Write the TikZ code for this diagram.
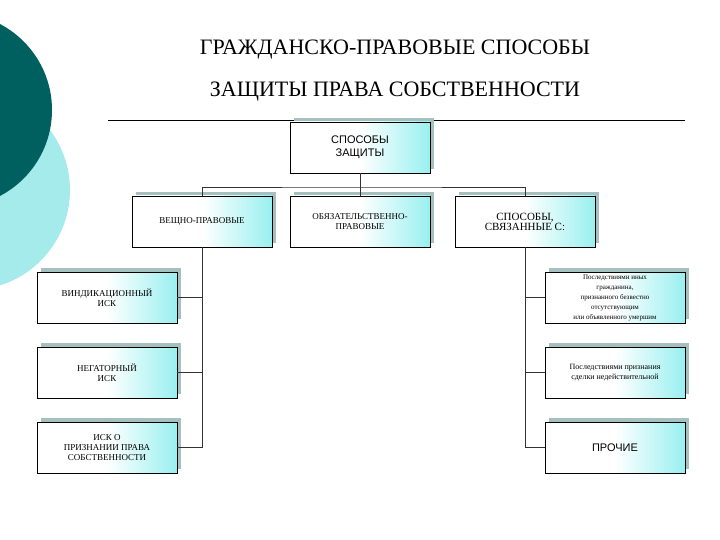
\documentclass[tikz,border=0pt]{standalone}
\usepackage{fontspec}
\setmainfont{Liberation Serif}
\setsansfont{Liberation Sans}
\begin{document}
\begin{tikzpicture}[x=1pt,y=-1pt,
  box/.style={draw=black,line width=0.6pt,minimum width=140pt,minimum height=51pt,align=center,
    left color=white,right color=teal!30!cyan!40,middle color=white,
    font=\fontsize{9}{10}\selectfont,inner sep=1pt},
  shadowbox/.style={fill=teal!40!gray!50,draw=none},
  conn/.style={draw=black!80,line width=0.8pt}]
\useasboundingbox (0,0) rectangle (720,540);
\fill[teal!45!cyan!35!white] (-30,190) circle (100);
\fill[teal!75!black] (-45,110) circle (97);
\node[font=\fontsize{22}{26}\selectfont] (t1) at (395,50) {ГРАЖДАНСКО-ПРАВОВЫЕ СПОСОБЫ};
\node[font=\fontsize{22}{26}\selectfont] (t2) at (395,92) {ЗАЩИТЫ ПРАВА СОБСТВЕННОСТИ};
\coordinate (r1) at (108,120); \coordinate (r2) at (685,120);
\draw[line width=0.6pt] (r1) -- (r2);
\newcommand{\bx}[4]{\fill[shadowbox] (#2+4,#3-4) rectangle ++(140,51);
  \node[box] (#1) at (#2+70,#3+25.5) {#4};}
\bx{root}{290}{122}{\sffamily\fontsize{11}{15}\selectfont СПОСОБЫ\\[3pt] \sffamily\fontsize{11}{15}\selectfont ЗАЩИТЫ}
\bx{a}{132}{196}{ВЕЩНО-ПРАВОВЫЕ}
\bx{b}{290}{196}{ОБЯЗАТЕЛЬСТВЕННО-\\ПРАВОВЫЕ}
\bx{c}{455}{196}{\fontsize{11}{13}\selectfont СПОСОБЫ,\\ \fontsize{11}{13}\selectfont СВЯЗАННЫЕ С:}
\bx{l1}{37}{272}{ВИНДИКАЦИОННЫЙ\\ИСК}
\bx{l2}{37}{347}{НЕГАТОРНЫЙ\\ИСК}
\bx{l3}{37}{422}{ИСК О\\ПРИЗНАНИИ ПРАВА\\СОБСТВЕННОСТИ}
\bx{p1}{545}{272}{\fontsize{7}{8.5}\selectfont Последствиями иных\\ \fontsize{7}{8.5}\selectfont гражданина,\\ \fontsize{7}{8.5}\selectfont признанного безвестно\\ \fontsize{7}{8.5}\selectfont отсутствующим\\ \fontsize{7}{8.5}\selectfont или объявленного умершим}
\bx{p2}{545}{347}{\fontsize{8}{10}\selectfont Последствиями признания\\ \fontsize{8}{10}\selectfont сделки недействительной}
\bx{p3}{545}{422}{\sffamily\fontsize{11}{13}\selectfont ПРОЧИЕ}
\coordinate (j) at (360,187);
\draw[conn] (root.south) -- (j);
\draw[conn] (a.north) |- (j) -| (c.north);
\draw[conn] (j) -- (b.north);
\draw[conn] (a.south) |- (l3.east);
\draw[conn] (a.south) |- (l1.east);
\draw[conn] (a.south) |- (l2.east);
\draw[conn] (c.south) |- (p3.west);
\draw[conn] (c.south) |- (p1.west);
\draw[conn] (c.south) |- (p2.west);
\end{tikzpicture}
\end{document}
